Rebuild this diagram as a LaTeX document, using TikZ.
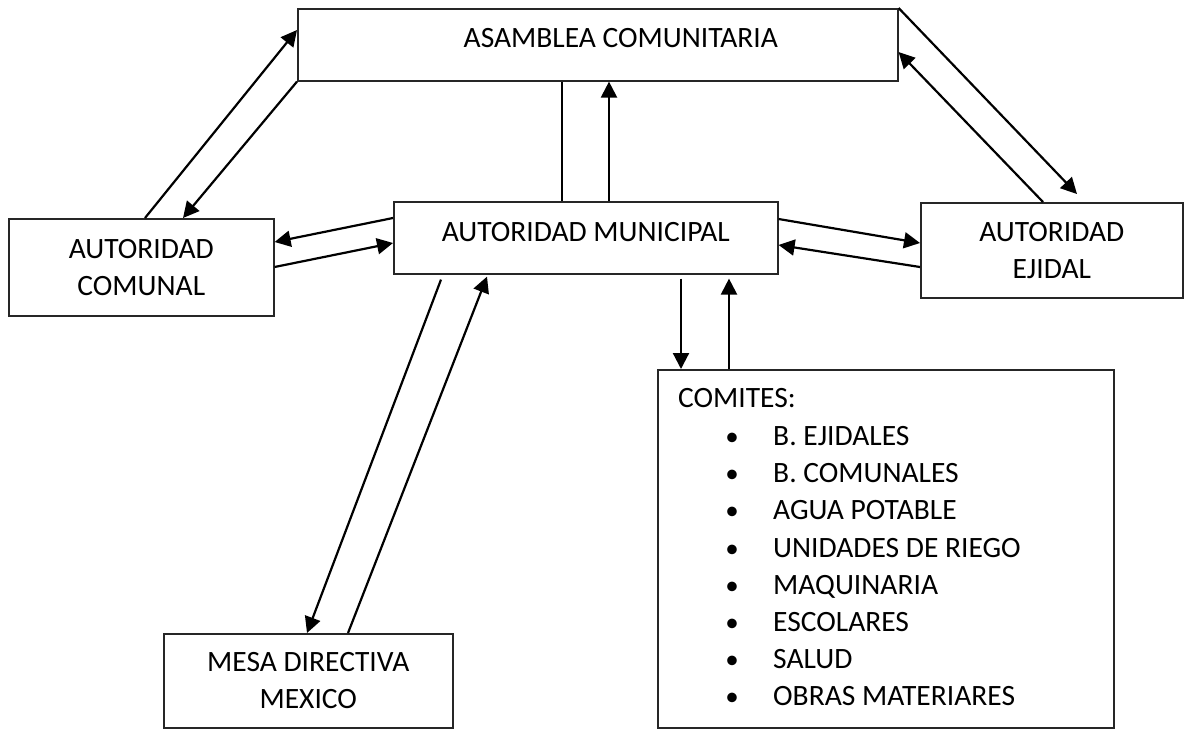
\documentclass[tikz,border=0pt]{standalone}
\usepackage{fontspec}
\setmainfont{Carlito}
\usetikzlibrary{calc,arrows.meta}
\begin{document}
\begin{tikzpicture}[x=1pt,y=-1pt,
  box/.style={draw=black!85, line width=1.6pt, inner sep=0pt, anchor=north west, align=center, font=\fontsize{29.5}{37}\selectfont},
  conn/.style={line width=2.2pt, -{Triangle[length=16pt,width=16pt]}},
  plainline/.style={line width=2.2pt},
  itm/.style={anchor=base west, inner sep=0pt, font=\fontsize{29.5}{37}\selectfont},
  bul/.style={anchor=base, inner sep=0pt, font=\fontsize{27}{37}\selectfont},
]
\useasboundingbox (0,0) rectangle (1184,729);

% boxes
\node[box, minimum width=600pt, minimum height=72pt, text height=18.5pt, text depth=12.5pt] (asam) at (297,8) {\hspace*{46pt}ASAMBLEA COMUNITARIA};
\node[box, minimum width=265pt, minimum height=97pt] (com) at (8,218) {AUTORIDAD\\COMUNAL};
\node[box, minimum width=384pt, minimum height=72pt, text height=18.5pt, text depth=10.5pt] (mun) at (393,201) {AUTORIDAD MUNICIPAL};
\node[box, minimum width=262pt, minimum height=95pt] (eji) at (920,202) {AUTORIDAD\\EJIDAL};
\node[box, minimum width=289pt, minimum height=94pt] (mesa) at (163,633) {MESA DIRECTIVA\\MEXICO};
\node[box, minimum width=456pt, minimum height=358pt] (comi) at (657,369) {};

% comites list
\node[itm] (comtit) at (678,407) {COMITES:};
\foreach \t [count=\i from 0] in {B. EJIDALES, B. COMUNALES, AGUA POTABLE, UNIDADES DE RIEGO, MAQUINARIA, ESCOLARES, SALUD, OBRAS MATERIARES} {
  \node[bul] (cb\i) at (732,{445.7+37.14*\i}) {\textbullet};
  \node[itm] (ci\i) at (773,{445.7+37.14*\i}) {\t};
}

% connectors: comunal <-> asamblea
\draw[conn] ($(com.north west)+(137,0)$) -- ($(asam.north west)+(0,22)$);
\draw[conn] (asam.south west) -- ($(com.north west)+(175,0)$);
% municipal <-> comunal
\draw[conn] ($(mun.north west)+(0,17)$) -- ($(com.north east)+(0,24)$);
\draw[conn] ($(com.north east)+(0,49)$) -- ($(mun.north west)+(0,42)$);
% municipal <-> asamblea
\draw[plainline] ($(asam.south west)+(265,0)$) -- ($(mun.north west)+(169,0)$);
\draw[conn] ($(mun.north west)+(216,0)$) -- ($(asam.south west)+(312,0)$);
% asamblea <-> ejidal
\draw[conn] (asam.north east) -- ($(eji.north west)+(157,-8)$);
\draw[conn] ($(eji.north west)+(123,0)$) -- ($(asam.north east)+(0,44)$);
% municipal <-> ejidal
\draw[conn] ($(mun.north east)+(0,18)$) -- ($(eji.north west)+(0,41)$);
\draw[conn] ($(eji.north west)+(0,65)$) -- ($(mun.north east)+(0,44)$);
% municipal <-> comites
\draw[conn] ($(mun.south west)+(288,4)$) -- ($(comi.north west)+(24,0)$);
\draw[conn] ($(comi.north west)+(72,0)$) -- ($(mun.south west)+(336,4)$);
% municipal <-> mesa
\draw[conn] ($(mun.south west)+(48,5)$) -- ($(mesa.north west)+(144,0)$);
\draw[conn] ($(mesa.north west)+(185,0)$) -- ($(mun.south west)+(94,2)$);
\end{tikzpicture}
\end{document}
